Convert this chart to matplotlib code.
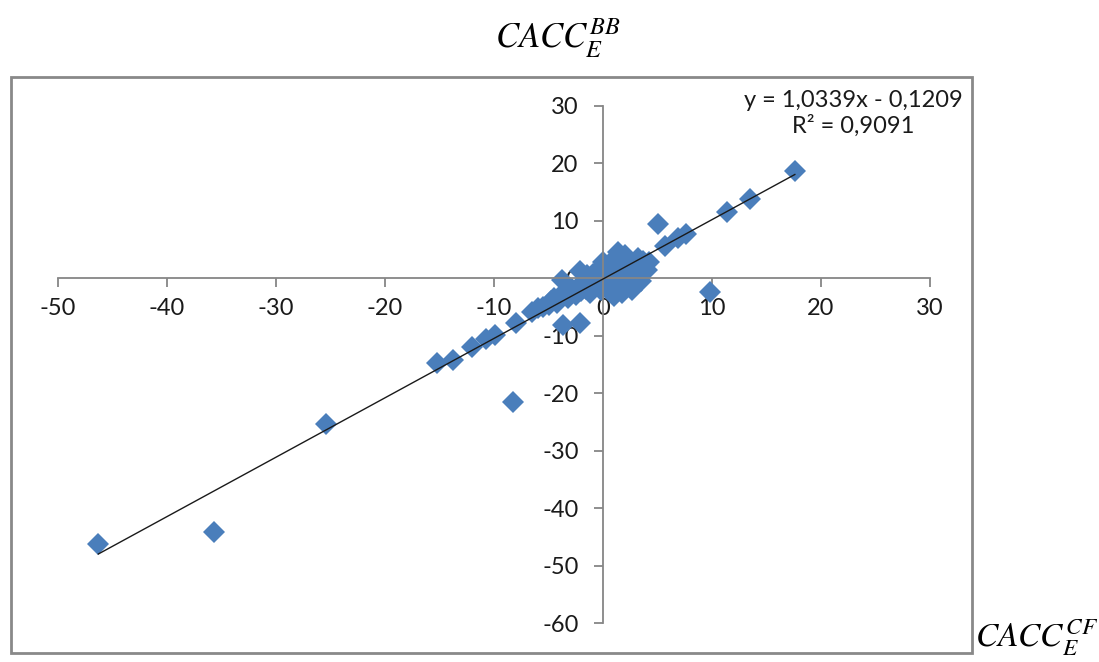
import matplotlib.pyplot as plt
from matplotlib.patches import Rectangle

plt.rcParams['font.family'] = ['Lato', 'DejaVu Sans']
plt.rcParams['mathtext.fontset'] = 'stix'
plt.rcParams['axes.unicode_minus'] = False

# puntos del grafico (CF en x, BB en y)
x_cf = [-46.3, -35.7, -25.4, -8.3, -15.2, -13.8, -12.0, -10.7, -9.9, -8.0,
        -3.7, -2.1, 9.8, 17.6, 13.5, 11.4, 5.0, 5.7, 6.9, 7.6,
        -6.5, -6.0, -5.5, -5.0, -4.8, -4.5, -4.2, -4.0, -3.8, -3.5,
        -3.2, -3.0, -2.8, -2.5, -2.3, -2.1, -2.0, -1.8, -1.6, -1.5,
        -1.3, -1.2, -1.0, -0.9, -0.8, -0.6, -0.5, -0.4, -0.3, -0.2,
        -0.1, 0.0, 0.1, 0.2, 0.3, 0.4, 0.5, 0.6, 0.7, 0.8,
        0.9, 1.0, 1.1, 1.2, 1.3, 1.4, 1.5, 1.6, 1.7, 1.8,
        1.9, 2.0, 2.1, 2.2, 2.3, 2.4, 2.5, 2.6, 2.7, 2.8,
        2.9, 3.0, 3.1, 3.2, 3.3, 3.4, 3.5, 3.6, 3.7, 3.8,
        4.0, 4.2, 0.0, -0.7, 1.0, 2.0, 3.0]
y_bb = [-46.3, -44.2, -25.4, -21.6, -14.8, -14.3, -12.0, -10.6, -9.9, -7.8,
        -8.2, -7.7, -2.3, 18.6, 13.8, 11.5, 9.4, 5.7, 7.1, 7.7,
        -5.8, -5.2, -5.0, -4.6, -4.0, -3.5, -4.3, -3.2, -0.3, -2.8,
        -3.5, -2.5, -1.8, -2.9, -1.5, 1.2, -2.2, -0.8, -1.9, 0.5,
        -1.2, -2.6, -0.5, 0.8, -1.5, -0.2, 1.5, -0.9, 0.3, -2.0,
        1.0, -0.4, 2.2, 0.6, -1.1, 1.8, 0.1, -2.2, 2.8, 0.9,
        -0.6, 1.5, -1.8, 3.2, 0.4, 4.5, -0.9, 2.0, -2.5, 1.1,
        3.5, -0.2, 2.6, -1.5, 0.8, 3.0, -0.8, 1.8, -2.0, 0.3,
        2.4, -1.0, 1.3, 3.6, 0.6, 2.0, -0.4, 1.0, 3.0, 2.2,
        1.5, 2.8, 2.8, 0.2, -3.0, 4.0, 0.0]

# linea de tendencia
slope = 1.0339
intercept = -0.1209
eq_text = 'y = 1,0339x - 0,1209\nR² = 0,9091'

x_ticks = [-50, -40, -30, -20, -10, 0, 10, 20, 30]
y_ticks = [-60, -50, -40, -30, -20, -10, 0, 10, 20, 30]

W, H = 1099, 662
fig = plt.figure(figsize=(W / 100, H / 100), dpi=100)
ax = fig.add_axes([58 / W, 1 - 623 / H, (930 - 58) / W, (623 - 106) / H])
ax.patch.set_alpha(0)

gray = '#868686'
ax.plot(x_cf, y_bb, 'D', color='#4a7ebb', markersize=11, markeredgewidth=0, zorder=2)

x0, x1 = min(x_cf), max(x_cf)
ax.plot([x0, x1], [slope * x0 + intercept, slope * x1 + intercept],
        color='#1a1a1a', linewidth=1.0, zorder=3)

ax.set_xlim(-50, 30)
ax.set_ylim(-60, 30)
ax.set_xticks(x_ticks)
ax.set_yticks(y_ticks)

for side in ['top', 'right']:
    ax.spines[side].set_visible(False)
ax.spines['left'].set_position(('data', 0))
ax.spines['bottom'].set_position(('data', 0))
for side in ['left', 'bottom']:
    ax.spines[side].set_color(gray)
    ax.spines[side].set_linewidth(1.3)

ax.tick_params(axis='both', direction='out', length=6.5, width=1.3, color=gray,
               labelsize=17, labelcolor='#1a1a1a')
ax.tick_params(axis='x', pad=8)
ax.tick_params(axis='y', pad=11)

ax.text(853 / W, 1 - 113 / H, eq_text, transform=fig.transFigure, ha='center',
        va='center', multialignment='center', fontsize=17, color='#1a1a1a',
        linespacing=1.2)

# borde del area del grafico
fig.patches.append(Rectangle((11 / W, 1 - 653 / H), (972 - 11) / W, (653 - 77) / H,
                             transform=fig.transFigure, fill=False,
                             edgecolor='#898989', linewidth=2))

fig.text(495 / W, 1 - 48 / H, r'$CACC_E^{BB}$', fontsize=25, va='baseline', ha='left')
fig.text(975 / W, 1 - 647 / H, r'$CACC_E^{CF}$', fontsize=24, va='baseline', ha='left')

fig.savefig('out.png', dpi=100)
plt.close()
